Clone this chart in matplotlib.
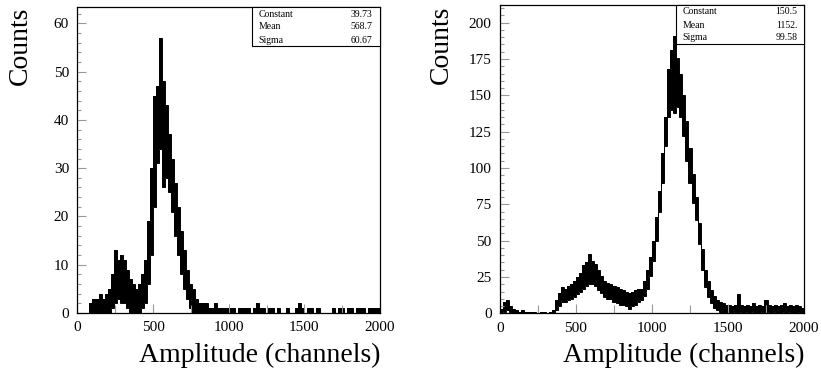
import numpy as np
import matplotlib
matplotlib.use('Agg')
from matplotlib import pyplot as plt
from matplotlib.patches import Rectangle
from matplotlib.ticker import MultipleLocator

plt.rcParams['font.family'] = ['Liberation Serif', 'DejaVu Serif']

#%% spectra: min / max counts in each 20-channel block, 0..2000 channels
block = 20
edges = np.arange(0, 2000 + block, block)

# first spectrum
hi_a = [0, 0, 0, 0, 2, 3, 3, 4, 3, 4,
        5, 8, 13, 11, 12, 11, 9, 7, 6, 5,
        6, 8, 11, 19, 30, 45, 47, 57, 48, 43,
        37, 32, 27, 22, 17, 13, 9, 6, 5, 3,
        2, 2, 2, 1, 1, 2, 1, 1, 1, 1,
        1, 1, 0, 1, 1, 1, 1, 0, 1, 2,
        1, 1, 0, 1, 1, 0, 1, 0, 0, 1,
        0, 0, 1, 2, 1, 0, 1, 1, 0, 1,
        0, 0, 0, 0, 1, 0, 1, 1, 0, 1,
        1, 0, 1, 1, 1, 0, 1, 1, 1, 1]
lo_a = [0, 0, 0, 0, 0, 0, 0, 0, 0, 0,
        0, 1, 2, 3, 2, 2, 1, 0, 0, 0,
        0, 1, 2, 6, 12, 22, 31, 34, 26, 28,
        25, 21, 16, 12, 8, 5, 3, 1, 0, 0] + [0] * 60

# second spectrum
hi_b = [3, 8, 9, 5, 3, 2, 1, 2, 1, 1,
        1, 1, 0, 1, 1, 0, 1, 2, 9, 14,
        18, 17, 19, 20, 22, 25, 28, 33, 35, 41,
        36, 34, 30, 26, 22, 21, 20, 19, 18, 17,
        16, 15, 14, 15, 16, 17, 17, 22, 30, 39,
        50, 66, 84, 110, 135, 168, 181, 191, 176, 165,
        150, 132, 114, 96, 80, 62, 44, 30, 22, 16,
        12, 9, 8, 7, 6, 6, 5, 6, 13, 6,
        5, 6, 5, 7, 5, 6, 5, 9, 6, 5,
        6, 5, 6, 7, 5, 6, 5, 6, 5, 4]
lo_b = [0, 1, 2, 1, 0, 0, 0, 0, 0, 0,
        0, 0, 0, 0, 0, 0, 0, 0, 2, 5,
        8, 8, 9, 10, 11, 13, 15, 17, 19, 20,
        20, 19, 16, 14, 11, 10, 10, 8, 7, 6,
        6, 5, 3, 5, 6, 8, 9, 12, 17, 26,
        36, 50, 70, 90, 115, 135, 140, 138, 142, 135,
        122, 105, 90, 76, 64, 48, 30, 18, 11, 7,
        4, 2, 1, 1, 0, 1, 0, 1, 0, 1,
        0, 1, 0, 1, 0, 0, 1, 0, 1, 0,
        1, 0, 0, 1, 0, 1, 0, 0, 1, 0]

# gaussian fit results
fit_names = ['Constant', 'Mean', 'Sigma']
fit_a = ['39.73', '568.7', '60.67']
fit_b = ['150.5', '1152.', '99.58']

#%% plotting
fig = plt.figure(figsize=(8.21, 3.73), dpi=100)
ax_a = fig.add_axes([0.0942, 0.1609, 0.3687, 0.8204])
ax_b = fig.add_axes([0.6090, 0.1600, 0.3703, 0.8257])


def draw_spectrum(ax, hi, lo, ymax, ymajor, yminor, fit, lab_x, val_x, rows, ylab_x):
    # filled band between block min and block max
    ax.stairs(hi, edges, baseline=lo, fill=True, color='black', linewidth=0)
    ax.stairs(hi, edges, baseline=lo, color='black', linewidth=0.7)
    ax.set_xlim(0, 2000)
    ax.set_ylim(0, ymax)
    ax.xaxis.set_major_locator(MultipleLocator(500))
    ax.xaxis.set_minor_locator(MultipleLocator(250))
    ax.yaxis.set_major_locator(MultipleLocator(ymajor))
    ax.yaxis.set_minor_locator(MultipleLocator(yminor))
    ax.tick_params(which='both', direction='in', color='#999999',
                   labelsize=11, top=False, right=False, pad=6)
    ax.tick_params(which='major', length=6.5, width=0.8)
    ax.tick_params(which='minor', length=3.2, width=0.8)
    ax.tick_params(axis='x', which='minor', length=5.5)
    for s in ax.spines.values():
        s.set_linewidth(0.9)
    ax.set_xlabel('Amplitude (channels)', fontsize=20, loc='right', labelpad=6)
    ax.set_ylabel('Counts', fontsize=20, loc='top')
    ax.yaxis.set_label_coords(ylab_x, 1.0)
    # stats box
    ax.add_patch(Rectangle((0.578, 0.873), 0.422, 0.127, transform=ax.transAxes,
                           facecolor='white', edgecolor='black', linewidth=0.8,
                           zorder=5, clip_on=False))
    for name, val, yy in zip(fit_names, fit, rows):
        ax.text(lab_x, yy, name, transform=ax.transAxes, fontsize=7,
                va='center', ha='left', zorder=6)
        ax.text(val_x, yy, val, transform=ax.transAxes, fontsize=7,
                va='center', ha='right', zorder=6)


draw_spectrum(ax_a, hi_a, lo_a, 63.4, 10, 2, fit_a, 0.599, 0.976,
              [0.977, 0.936, 0.892], -0.146)
draw_spectrum(ax_b, hi_b, lo_b, 211.9, 25, 5, fit_b, 0.601, 0.979,
              [0.979, 0.936, 0.895], -0.151)

fig.savefig('out.png', dpi=100)
